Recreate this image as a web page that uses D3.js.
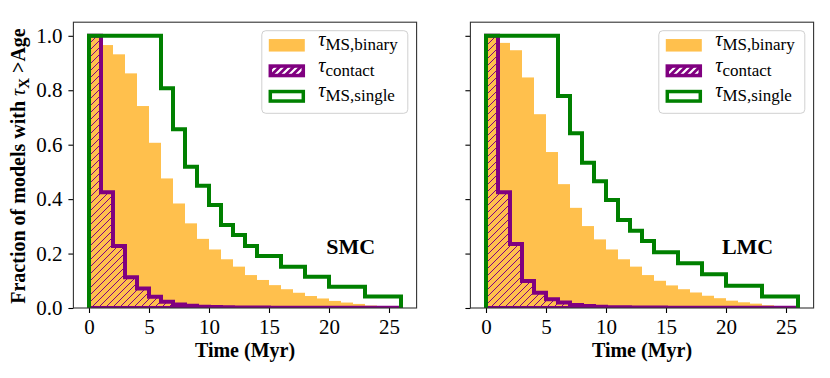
<!DOCTYPE html>
<html>
<head>
<meta charset="utf-8">
<script src="https://cdn.jsdelivr.net/npm/d3@7"></script>
<style>
  body { margin: 0; background: #fff; }
  svg text { font-family: "Liberation Serif", "DejaVu Serif", serif; }
</style>
</head>
<body>
<div class="canvas"></div>
<script>
// time bins (Myr), 1 Myr wide, left edges
const binStarts = d3.range(0, 26);
const xTicks = [0, 5, 10, 15, 20, 25];
const yTicks = [0, 0.2, 0.4, 0.6, 0.8, 1.0];

// SMC
const smcBinary = [1.0, 0.966, 0.932, 0.862, 0.742, 0.607, 0.476, 0.384, 0.311, 0.254, 0.215, 0.179, 0.152,
                   0.121, 0.103, 0.084, 0.069, 0.056, 0.044, 0.035, 0.026, 0.020, 0.015, 0.009, 0.006, 0.003];
const smcContact = [1.0, 0.425, 0.228, 0.113, 0.072, 0.041, 0.023, 0.013, 0.008, 0.005, 0.004, 0.003, 0.002,
                    0.002, 0.002, 0.001, 0.001, 0.001, 0.001, 0.001, 0.001, 0.001, 0.001, 0.001, 0.001, 0.001];
const smcSingle = [1, 1, 1, 1, 1, 1, 0.807, 0.657, 0.519, 0.449, 0.378, 0.305, 0.268,
                   0.228, 0.191, 0.191, 0.152, 0.152, 0.115, 0.115, 0.078, 0.078, 0.078, 0.042, 0.042, 0.042];

// LMC
const lmcBinary = [1.0, 0.974, 0.947, 0.847, 0.712, 0.573, 0.455, 0.368, 0.301, 0.252, 0.215, 0.179, 0.152,
                   0.121, 0.100, 0.083, 0.069, 0.057, 0.045, 0.036, 0.027, 0.021, 0.016, 0.010, 0.006, 0.003];
const lmcContact = [1.0, 0.425, 0.235, 0.099, 0.056, 0.032, 0.020, 0.011, 0.007, 0.005, 0.003, 0.003, 0.002,
                    0.002, 0.002, 0.001, 0.001, 0.001, 0.001, 0.001, 0.001, 0.001, 0.001, 0.001, 0.001, 0.001];
const lmcSingle = [1, 1, 1, 1, 1, 1, 0.779, 0.642, 0.534, 0.466, 0.397, 0.323, 0.284,
                   0.246, 0.205, 0.205, 0.164, 0.164, 0.124, 0.124, 0.082, 0.082, 0.082, 0.042, 0.042, 0.042];

const panels = [
  {name: 'SMC', left: 73.4, binary: smcBinary, contact: smcContact, single: smcSingle, yLabels: true},
  {name: 'LMC', left: 470.4, binary: lmcBinary, contact: lmcContact, single: lmcSingle, yLabels: false}
];

const orange = '#ffc04d', purple = '#800080', green = '#008000';
const width = 830, height = 378;
const axW = 343.2, axTop = 22.2, axBottom = 308;

const svg = d3.select('.canvas').append('svg')
  .attr('width', width).attr('height', height);

const defs = svg.append('defs');
// hatch for the contact histogram
const hatch = defs.append('pattern').attr('id', 'hatch')
  .attr('patternUnits', 'userSpaceOnUse').attr('width', 7).attr('height', 7);
hatch.append('path').attr('d', 'M-1,8 L8,-1 M-2,2 L2,-2 M5,9 L9,5')
  .attr('stroke', purple).attr('stroke-width', 1);
// legend hatch: dense purple with white slashes
const hatchLeg = defs.append('pattern').attr('id', 'hatchLeg')
  .attr('patternUnits', 'userSpaceOnUse').attr('width', 7).attr('height', 7);
hatchLeg.append('rect').attr('width', 7).attr('height', 7).attr('fill', purple);
hatchLeg.append('path').attr('d', 'M-1,8 L8,-1 M-2,2 L2,-2 M5,9 L9,5')
  .attr('stroke', '#fff').attr('stroke-width', 2.2);

// step outline of a histogram
const stepPath = (vals, x, y) => {
  let d = `M${x(0)},${y(0)}`;
  vals.forEach((v, i) => { d += `L${x(i)},${y(v)}L${x(i + 1)},${y(v)}`; });
  d += `L${x(vals.length)},${y(0)}`;
  return d;
};

panels.forEach((p, k) => {
  const x = d3.scaleLinear().domain([-1.3, 27.3]).range([p.left, p.left + axW]);
  const y = d3.scaleLinear().domain([0, 1.05]).range([axBottom, axTop]);

  const g = svg.append('g');
  defs.append('clipPath').attr('id', 'clip' + k)
    .append('rect').attr('x', p.left).attr('y', axTop).attr('width', axW).attr('height', axBottom - axTop);
  const plot = g.append('g').attr('clip-path', `url(#clip${k})`);

  // orange bars
  plot.selectAll('rect.bin').data(p.binary).enter().append('rect')
    .attr('class', 'bin')
    .attr('x', (d, i) => x(binStarts[i]))
    .attr('width', x(1) - x(0))
    .attr('y', d => y(d))
    .attr('height', d => y(0) - y(d))
    .attr('fill', orange);

  // contact (hatched stepfilled)
  plot.append('path').attr('d', stepPath(p.contact, x, y) + 'Z')
    .attr('fill', 'url(#hatch)').attr('stroke', purple).attr('stroke-width', 4)
    .attr('stroke-linejoin', 'miter');

  // single (step)
  plot.append('path').attr('d', stepPath(p.single, x, y))
    .attr('fill', 'none').attr('stroke', green).attr('stroke-width', 4)
    .attr('stroke-linejoin', 'miter');

  // axes
  const xAxis = d3.axisBottom(x).tickValues(xTicks).tickSize(5).tickPadding(6).tickFormat(d3.format('d'));
  const yAxis = d3.axisLeft(y).tickValues(yTicks).tickSize(5).tickPadding(6)
    .tickFormat(p.yLabels ? d3.format('.1f') : () => '');
  const xg = g.append('g').attr('transform', `translate(0,${axBottom})`).call(xAxis);
  const yg = g.append('g').attr('transform', `translate(${p.left},0)`).call(yAxis);
  [xg, yg].forEach(a => {
    a.select('.domain').remove();
    a.selectAll('line').attr('stroke', '#000').attr('stroke-width', 1.1);
    a.selectAll('text').attr('font-size', 21).attr('fill', '#000')
      .style('font-family', '"Liberation Serif", serif');
  });

  // frame
  g.append('rect').attr('x', p.left).attr('y', axTop).attr('width', axW).attr('height', axBottom - axTop)
    .attr('fill', 'none').attr('stroke', '#333').attr('stroke-width', 1.1);

  // x label
  g.append('text').attr('x', p.left + axW / 2).attr('y', 357)
    .attr('text-anchor', 'middle').attr('font-size', 20).attr('font-weight', 'bold')
    .text('Time (Myr)');

  // region label
  g.append('text').attr('x', x(21.8)).attr('y', 254)
    .attr('text-anchor', 'middle').attr('font-size', 22).attr('font-weight', 'bold')
    .text(p.name);

  // legend
  const lx = x(14.4), ly = 30.7;
  const leg = g.append('g');
  leg.append('rect').attr('x', lx).attr('y', ly).attr('width', 146).attr('height', 82.6)
    .attr('rx', 4).attr('fill', '#fff').attr('fill-opacity', 0.8)
    .attr('stroke', '#d0d0d0').attr('stroke-width', 1);
  const entries = [
    {sub: 'MS,binary', kind: 'binary'},
    {sub: 'contact', kind: 'contact'},
    {sub: 'MS,single', kind: 'single'}
  ];
  entries.forEach((e, i) => {
    const cy = ly + 14.6 + i * 25.5;
    const px = lx + 7, pw = 36, ph = 12.5;
    const r = leg.append('rect').attr('x', px).attr('y', cy - ph / 2).attr('width', pw).attr('height', ph);
    if (e.kind === 'binary') r.attr('fill', orange);
    else if (e.kind === 'contact') r.attr('x', px + 1.5).attr('y', cy - ph / 2 + 1.5)
      .attr('width', pw - 3).attr('height', ph - 3)
      .attr('fill', 'url(#hatchLeg)').attr('stroke', purple).attr('stroke-width', 3.5);
    else r.attr('x', px + 1.5).attr('y', cy - ph / 2 + 1.5)
      .attr('width', pw - 3).attr('height', ph - 3)
      .attr('fill', 'none').attr('stroke', green).attr('stroke-width', 3.5);
    const t = leg.append('text').attr('x', lx + 56.5).attr('y', cy + 1).attr('font-size', 20);
    t.append('tspan').attr('font-style', 'italic').text('τ');
    t.append('tspan').attr('font-size', 17).attr('dy', 4).text(e.sub);
  });
});

// shared y label
const yl = svg.append('text')
  .attr('transform', 'translate(25,166) rotate(-90)')
  .attr('text-anchor', 'middle').attr('font-size', 20).attr('font-weight', 'bold');
yl.append('tspan').text('Fraction of models with ');
yl.append('tspan').attr('font-style', 'italic').attr('font-weight', 'normal').text('τ');
yl.append('tspan').attr('font-size', 15).attr('dy', 4).text('X');
yl.append('tspan').attr('dy', -4).text(' >Age');
</script>
</body>
</html>
